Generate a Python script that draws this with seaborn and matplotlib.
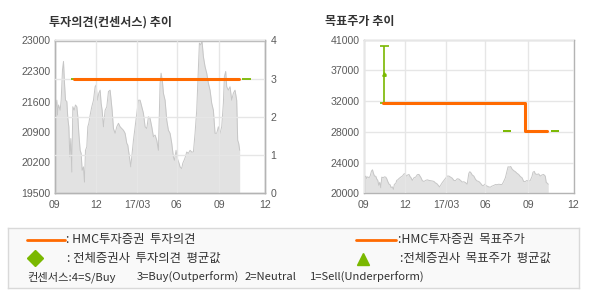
import numpy as np
import pandas as pd
import matplotlib
matplotlib.use("Agg")
import matplotlib.pyplot as plt
import seaborn as sns

# ---------------- data ----------------
days = [0, 2, 3.5, 4.5, 6, 8.5, 10, 12, 13.5, 15,
        16.5, 18.5, 20, 21.5, 23, 24.5, 26, 27.5, 29.5, 31.5,
        33.5, 35, 36.5, 38.5, 40, 41.5, 43.5, 45, 46.5, 48.5,
        50, 51.5, 53.5, 56, 58.5, 61, 62.5, 64.5, 66.5, 68.5,
        70, 71.5, 73.5, 76, 78.5, 81, 83.5, 85, 86.5, 88.5,
        91, 93.5, 96, 98.5, 101, 103.5, 106, 108.5, 110, 112.5,
        114.5, 117, 118.5, 121, 123.5, 126, 128.5, 131, 133.5, 136,
        138.5, 141, 143.5, 146, 148.5, 151, 153.5, 156, 158.5, 160,
        162, 163.5, 166, 168.5, 171, 173.5, 176, 178.5, 180, 182.5,
        184.5, 187, 188.5, 191, 192.5, 194.5, 196.5, 198.5, 201, 203.5,
        206, 208.5, 211, 213.5, 216, 217.5, 219.5, 221.5, 223.5, 226,
        228.5, 231, 233.5, 236, 238.5, 241, 243.5, 246, 248.5, 251,
        253.5, 255, 257, 258.5, 261, 263.5, 266, 268.5, 271, 273.5,
        275, 276.5, 278]
price = [21630, 21480, 21630, 21290, 21520, 21400, 21630, 22330, 22520, 22020,
         21630, 21600, 21210, 21020, 20330, 20750, 19980, 21480, 21400, 21520,
         21480, 21250, 20870, 20480, 20410, 20020, 20100, 19750, 20480, 20560,
         21020, 21100, 21290, 21480, 21630, 21940, 21980, 21630, 21790, 21860,
         21560, 21400, 21020, 21400, 21480, 21830, 21860, 21630, 21400, 20980,
         20870, 21020, 21100, 21020, 20980, 20940, 20870, 20640, 20600, 20330,
         20100, 20480, 20710, 21020, 21330, 21630, 21630, 21480, 21330, 21020,
         20980, 21250, 21210, 21020, 20790, 20830, 20710, 20480, 22020, 22250,
         22060, 21790, 21630, 21170, 20940, 20870, 20640, 20330, 20250, 20480,
         20290, 20180, 20100, 20060, 20180, 20250, 20330, 20440, 20410, 20480,
         20440, 20440, 20870, 21400, 22400, 22940, 22900, 22980, 22630, 22400,
         22250, 22020, 21860, 21560, 21400, 20870, 20870, 21020, 20870, 21020,
         21560, 22170, 22290, 21940, 21860, 21940, 21630, 21790, 21860, 21630,
         20710, 20640, 20480]

tick_pos = [0, 62, 124.5, 183.5, 247.5, 316]
tick_labels = ["09", "12", "17/03", "06", "09", "12"]

op_days = [29.5, 276.5]
op_vals = [3, 3]
tp_days = [30, 242.5, 276]
tp_vals = [32000, 28000, 28000]

cons_days = [31.5, 216, 288]
cons_op = [3, 3, 3]
cons_tp_mean = [36000, 28000, 28000]
cons_tp_high = [40000, 28000, 28000]
cons_tp_low = [32000, 28000, 28000]

left_yticks = [19500, 20200, 20900, 21600, 22300, 23000]
op_ticks = [0, 1, 2, 3, 4]
right_ytick_labels = ["20000", "24000", "28000", "32000", "37000", "41000"]

legend_labels = [": HMC투자증권  투자의견", ": 전체증권사  투자의견  평균값",
                 ":HMC투자증권  목표주가", ":전체증권사  목표주가  평균값"]
cons_note = ["컨센서스:4=S/Buy", "3=Buy(Outperform)", "2=Neutral", "1=Sell(Underperform)"]

# ---------------- style ----------------
sns.set_style("white")
plt.rcParams["font.family"] = ["Noto Sans CJK KR", "DejaVu Sans"]

ORANGE = "#ff6a00"
GREEN = "#7ab800"
FILL = "#e2e2e2"
EDGE = "#c6c6c6"
GRID = "#e6e6e6"
SPINE = "#b4b4b4"
TXT = "#5a5a5a"
TICKFONT = dict(family="Liberation Sans", size=7.6)

W, H = 590, 300
fig = plt.figure(figsize=(W / 100, H / 100), dpi=100)
fig.patch.set_facecolor("white")


def rect(l, t, r, b):
    return [l / W, 1 - b / H, (r - l) / W, (b - t) / H]


df = pd.DataFrame({"day": days, "price": price})
dash = 6.5


def style_axes(ax):
    for s in ax.spines.values():
        s.set_color(SPINE)
        s.set_linewidth(1)
    ax.set_xlabel("")
    ax.set_ylabel("")


# ---------------- left chart ----------------
axL = fig.add_axes(rect(54.5, 40.5, 265, 193))
axL.fill_between(days, price, 19500, color=FILL, lw=0, zorder=1)
sns.lineplot(data=df, x="day", y="price", ax=axL, color=EDGE, lw=0.7, zorder=1.5)
axL.set_xlim(0, 316)
axL.set_ylim(19500, 23000)
axL.set_yticks(left_yticks)
axL.set_yticklabels([str(v) for v in left_yticks], **TICKFONT, color=TXT)
axL.set_xticks(tick_pos)
axL.set_xticklabels(tick_labels, **TICKFONT, color=TXT)
axL.set_axisbelow(False)
axL.grid(axis="x", color=GRID, lw=1, zorder=2)
axL.grid(axis="y", visible=False)
axL.tick_params(axis="y", length=0, pad=3)
axL.tick_params(axis="x", length=3, color=SPINE, pad=2)
style_axes(axL)

axL2 = axL.twinx()
axL2.set_ylim(0, 4)
axL2.set_yticks(op_ticks)
axL2.set_yticklabels([str(v) for v in op_ticks], **TICKFONT, color=TXT)
axL2.set_axisbelow(False)
axL2.grid(axis="y", color=GRID, lw=1)
axL2.tick_params(axis="y", length=0, pad=4)
for d, v in zip(cons_days, cons_op):
    axL2.hlines(v, d - dash, d + dash, color=GREEN, lw=1.3, zorder=3)
sns.lineplot(x=op_days, y=op_vals, ax=axL2, color=ORANGE, lw=2.2, zorder=4)
style_axes(axL2)

# ---------------- right chart ----------------
axR = fig.add_axes(rect(363.5, 39.5, 573.5, 193.3))
axR.fill_between(days, price, 19200, color=FILL, lw=0, zorder=1)
sns.lineplot(data=df, x="day", y="price", ax=axR, color=EDGE, lw=0.7, zorder=1.5)
axR.set_xlim(0, 316)
axR.set_ylim(19200, 40900)
axR.set_yticks(np.linspace(19200, 40900, 6))
axR.set_yticklabels(right_ytick_labels, **TICKFONT, color=TXT)
axR.set_xticks(tick_pos)
axR.set_xticklabels(tick_labels, **TICKFONT, color=TXT)
axR.set_axisbelow(False)
axR.grid(True, color=GRID, lw=1, zorder=2)
axR.tick_params(axis="y", length=0, pad=3)
axR.tick_params(axis="x", length=3, color=SPINE, pad=2)
for d, m, hi, lo in zip(cons_days, cons_tp_mean, cons_tp_high, cons_tp_low):
    axR.hlines([hi, lo], d - dash, d + dash, color=GREEN, lw=1.2, zorder=3)
    if hi > lo:
        axR.vlines(d, lo, hi, color=GREEN, lw=1.2, zorder=3)
        axR.hlines(m, d - 2.5, d + 2.5, color=GREEN, lw=1.0, zorder=3)
        axR.plot([d], [m], marker="^", ms=2.5, color=GREEN, zorder=3)
sns.lineplot(x=tp_days, y=tp_vals, ax=axR, color=ORANGE, lw=2.2,
             drawstyle="steps-post", zorder=4)
style_axes(axR)

# ---------------- titles ----------------
fig.text(49 / W, 1 - 22 / H, "투자의견(컨센서스) 추이", fontsize=8.7,
         fontweight="bold", color="#333333", ha="left", va="center")
fig.text(325 / W, 1 - 22 / H, "목표주가 추이", fontsize=8.7,
         fontweight="bold", color="#333333", ha="left", va="center")

# ---------------- legend box ----------------
axG = fig.add_axes(rect(8, 228, 579, 288))
axG.set_xlim(8, 579)
axG.set_ylim(288, 228)
axG.set_facecolor("#f9f9f9")
axG.set_xticks([])
axG.set_yticks([])
for s in axG.spines.values():
    s.set_color("#d9d9d9")
    s.set_linewidth(1)

LFS = 8.9
axG.plot([27, 65], [240, 240], color=ORANGE, lw=2)
axG.text(66, 240, legend_labels[0], fontsize=LFS, color="#333333", va="center", ha="left")
axG.plot([35], [258], marker="D", ms=8, color=GREEN, mec=GREEN)
axG.text(67, 258, legend_labels[1], fontsize=LFS, color="#333333", va="center", ha="left")
axG.plot([356, 396], [240, 240], color=ORANGE, lw=2)
axG.text(398, 240, legend_labels[2], fontsize=LFS, color="#333333", va="center", ha="left")
axG.plot([363], [259], marker="^", ms=8, color=GREEN, mec=GREEN)
axG.text(400, 258, legend_labels[3], fontsize=LFS, color="#333333", va="center", ha="left")
for x, t in zip([27, 137, 245, 310], cons_note):
    axG.text(x, 277, t, fontsize=8.1, color="#333333", va="center", ha="left")

fig.savefig("out.png", dpi=100)
